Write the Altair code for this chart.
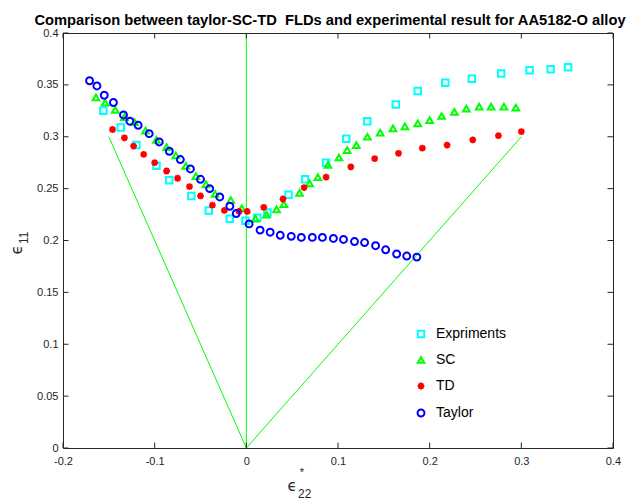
import altair as alt
import pandas as pd

# ---------------- data ----------------
series_names = ["Expriments", "SC", "TD", "Taylor"]

ex_x = [-0.156, -0.137, -0.120, -0.098, -0.084, -0.060, -0.041, -0.018, -0.001, 0.012, 0.023, 0.046,
        0.064, 0.087, 0.109, 0.132, 0.163, 0.187, 0.217, 0.246, 0.278, 0.309, 0.332, 0.351]
ex_y = [0.325, 0.309, 0.292, 0.272, 0.258, 0.243, 0.229, 0.221, 0.219, 0.222, 0.227, 0.244,
        0.259, 0.275, 0.298, 0.315, 0.331, 0.344, 0.352, 0.356, 0.361, 0.364, 0.365, 0.367]

sc_x = [-0.164, -0.154, -0.143, -0.133, -0.122, -0.110, -0.098, -0.087, -0.077, -0.066, -0.055, -0.044,
        -0.034, -0.017, -0.005, 0.010, 0.022, 0.033, 0.041, 0.058, 0.069, 0.078, 0.089, 0.101, 0.110,
        0.120, 0.132, 0.146, 0.160, 0.173, 0.187, 0.200, 0.213, 0.227, 0.240, 0.254, 0.267, 0.281, 0.294]
sc_y = [0.338, 0.333, 0.326, 0.319, 0.314, 0.306, 0.297, 0.290, 0.282, 0.272, 0.262, 0.254,
        0.245, 0.239, 0.231, 0.221, 0.225, 0.230, 0.235, 0.246, 0.255, 0.261, 0.273, 0.280, 0.287,
        0.292, 0.300, 0.304, 0.308, 0.310, 0.313, 0.316, 0.320, 0.324, 0.327, 0.329, 0.329, 0.329, 0.328]

td_x = [-0.146, -0.133, -0.123, -0.112, -0.100, -0.087, -0.075, -0.062, -0.050, -0.037, -0.024, -0.008,
        0.001, 0.019, 0.040, 0.063, 0.087, 0.114, 0.140, 0.166, 0.192, 0.219, 0.247, 0.275, 0.300]
td_y = [0.307, 0.299, 0.291, 0.283, 0.275, 0.267, 0.260, 0.252, 0.243, 0.234, 0.229, 0.228,
        0.228, 0.232, 0.240, 0.251, 0.261, 0.271, 0.279, 0.284, 0.289, 0.292, 0.297, 0.301, 0.305]

ta_x = [-0.171, -0.163, -0.155, -0.145, -0.134, -0.127, -0.118, -0.106, -0.095, -0.084, -0.072, -0.061,
        -0.050, -0.040, -0.029, -0.018, -0.011, 0.003, 0.015, 0.026, 0.037, 0.049, 0.060, 0.072, 0.083,
        0.095, 0.106, 0.118, 0.129, 0.141, 0.152, 0.164, 0.175, 0.186]
ta_y = [0.354, 0.349, 0.340, 0.333, 0.321, 0.315, 0.311, 0.303, 0.295, 0.286, 0.278, 0.269,
        0.259, 0.250, 0.242, 0.233, 0.226, 0.216, 0.210, 0.208, 0.205, 0.204, 0.203, 0.203, 0.203,
        0.202, 0.201, 0.199, 0.198, 0.195, 0.191, 0.187, 0.185, 0.184]

# green reference lines (segment id, x, y)
line_seg = [1, 1, 2, 2, 3, 3]
line_x = [0.0, 0.0, 0.0, -0.15, 0.0, 0.3]
line_y = [0.0, 0.4, 0.0, 0.3, 0.0, 0.3]

x_ticks = [-0.2, -0.1, 0.0, 0.1, 0.2, 0.3, 0.4]
y_ticks = [0.0, 0.05, 0.1, 0.15, 0.2, 0.25, 0.3, 0.35, 0.4]

title_text = "Comparison between taylor-SC-TD  FLDs and experimental result for AA5182-O alloy"

# ---------------- build ----------------
W, H = 550, 415
XD = [-0.2, 0.4]
YD = [0.0, 0.4]
FONT = "Liberation Sans"
AX = "#262626"

rows = []
for name, xs, ys in zip(series_names, [ex_x, sc_x, td_x, ta_x], [ex_y, sc_y, td_y, ta_y]):
    for a, b in zip(xs, ys):
        rows.append({"x": a, "y": b, "series": name})
pts = pd.DataFrame(rows)

xscale = alt.Scale(domain=XD, nice=False, zero=False)
yscale = alt.Scale(domain=YD, nice=False, zero=False)

asterisk = "M0,-1L0,1M-1,0L1,0M-0.72,-0.72L0.72,0.72M-0.72,0.72L0.72,-0.72"

points = alt.Chart(pts).mark_point(filled=False, strokeWidth=2, opacity=1).encode(
    x=alt.X("x:Q", scale=xscale, title=None,
            axis=alt.Axis(values=x_ticks, tickSize=0, domain=False, grid=False,
                          labelExpr="toString(datum.value)", labelFont=FONT, labelFontSize=11,
                          labelColor=AX, labelPadding=7, labelOverlap=False, labelBound=False,
                          labelFlush=False)),
    y=alt.Y("y:Q", scale=yscale, title=None,
            axis=alt.Axis(values=y_ticks, tickSize=0, domain=False, grid=False,
                          labelExpr="toString(datum.value)", labelFont=FONT, labelFontSize=11,
                          labelColor=AX, labelPadding=5, labelOverlap=False, labelBound=False,
                          labelFlush=False)),
    shape=alt.Shape("series:N", scale=alt.Scale(domain=series_names,
                                                 range=["square", "triangle-up", asterisk, "circle"]),
                    legend=alt.Legend(title=None)),
    color=alt.Color("series:N", scale=alt.Scale(domain=series_names,
                                                 range=["#00FFFF", "#00FF00", "#FF0000", "#0000FF"]),
                    legend=alt.Legend(title=None)),
    size=alt.Size("series:N", scale=alt.Scale(domain=series_names, range=[42, 48, 100, 36]),
                  legend=None),
)

lines = alt.Chart(pd.DataFrame({"seg": line_seg, "x": line_x, "y": line_y})).mark_line(
    color="#00FF00", strokeWidth=1).encode(
    x=alt.X("x:Q", scale=xscale), y=alt.Y("y:Q", scale=yscale), detail="seg:N")

tx = pd.DataFrame({"t": x_ticks})
ty = pd.DataFrame({"t": y_ticks})
tlx = 5.5 / W * (XD[1] - XD[0])
tly = 5.5 / H * (YD[1] - YD[0])
tick_style = dict(color=AX, strokeWidth=1)
tick_b = alt.Chart(tx).mark_rule(**tick_style).encode(
    x=alt.X("t:Q", scale=xscale), y=alt.datum(YD[0]), y2=alt.datum(YD[0] + tly))
tick_t = alt.Chart(tx).mark_rule(**tick_style).encode(
    x=alt.X("t:Q", scale=xscale), y=alt.datum(YD[1]), y2=alt.datum(YD[1] - tly))
tick_l = alt.Chart(ty).mark_rule(**tick_style).encode(
    y=alt.Y("t:Q", scale=yscale), x=alt.datum(XD[0]), x2=alt.datum(XD[0] + tlx))
tick_r = alt.Chart(ty).mark_rule(**tick_style).encode(
    y=alt.Y("t:Q", scale=yscale), x=alt.datum(XD[1]), x2=alt.datum(XD[1] - tlx))

# keep the double space visible in SVG
one = pd.DataFrame({"t": [title_text.replace("  ", "\u00a0 ")]})
title = alt.Chart(one).mark_text(font=FONT, fontSize=14.7, fontWeight="bold", color="black",
                                 align="center", baseline="alphabetic").encode(
    x=alt.value(267), y=alt.value(-8), text="t:N")

xl_main = alt.Chart(pd.DataFrame({"t": ["\u03f5"]})).mark_text(
    font="DejaVu Sans", fontSize=15, color=AX, align="center", baseline="middle").encode(
    x=alt.value(229), y=alt.value(453), text="t:N")
xl_sub = alt.Chart(pd.DataFrame({"t": ["22"]})).mark_text(
    font=FONT, fontSize=12, color=AX, align="left", baseline="middle").encode(
    x=alt.value(235), y=alt.value(461), text="t:N")
xl_sup = alt.Chart(pd.DataFrame({"t": ["*"]})).mark_text(
    font=FONT, fontSize=11, color=AX, align="center", baseline="middle").encode(
    x=alt.value(239), y=alt.value(440), text="t:N")

yl_main = alt.Chart(pd.DataFrame({"t": ["\u03f5"]})).mark_text(
    font="DejaVu Sans", fontSize=15, color=AX, align="center", baseline="middle", angle=270).encode(
    x=alt.value(-46), y=alt.value(217), text="t:N")
yl_sub = alt.Chart(pd.DataFrame({"t": ["11"]})).mark_text(
    font=FONT, fontSize=12, color=AX, align="left", baseline="middle", angle=270).encode(
    x=alt.value(-39), y=alt.value(211), text="t:N")

chart = alt.layer(
    lines, tick_b, tick_t, tick_l, tick_r, points, title, xl_main, xl_sub, xl_sup, yl_main, yl_sub
).properties(
    width=W, height=H,
    padding={"left": 55, "top": 25, "right": 14, "bottom": 51},
    autosize=alt.AutoSizeParams(type="none"),
    background="white",
).configure_view(
    stroke=AX, strokeWidth=1
).configure_legend(
    orient="none", legendX=351, legendY=294, padding=0,
    labelFont=FONT, labelFontSize=14, labelColor="black", labelOffset=8,
    symbolSize=18, symbolStrokeWidth=2, rowPadding=11, labelLimit=200,
)

chart.save("out.html", embed_options={"renderer": "svg", "actions": False})
